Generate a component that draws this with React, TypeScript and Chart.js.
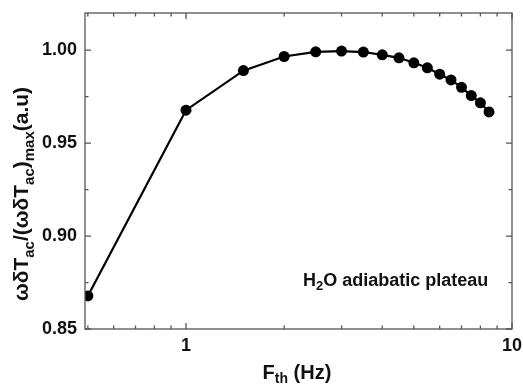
import React, { useEffect, useRef } from "react";
import { Chart, registerables } from "chart.js";

Chart.register(...registerables);

const frequencies = [0.5, 1.0, 1.5, 2.0, 2.5, 3.0, 3.5, 4.0, 4.5, 5.0, 5.5, 6.0, 6.5, 7.0, 7.5, 8.0, 8.5];
const normalized = [0.8678, 0.9677, 0.989, 0.9966, 0.9991, 0.9995, 0.999, 0.9975, 0.9959, 0.9932, 0.9905, 0.9871, 0.984, 0.980, 0.9756, 0.9717, 0.9668];
const xTickValues = [1, 10];
const xMinorTicks = [0.5, 0.6, 0.7, 0.8, 0.9, 2, 3, 4, 5, 6, 7, 8, 9];
const yTickValues = [0.85, 0.9, 0.95, 1.0];
const yMinorTicks = [0.875, 0.925, 0.975, 1.0];
const annotationText = ["H", "2", "O adiabatic plateau"];

const FONT = '"Liberation Sans", Arial, Helvetica, sans-serif';

type Seg = { t: string; sub: boolean };

function drawSegs(ctx: CanvasRenderingContext2D, segs: Seg[], x: number, y: number, main: number, sub: number, subOff: number, align: "left" | "center") {
  const fontFor = (s: Seg) => `bold ${s.sub ? sub : main}px ${FONT}`;
  let total = 0;
  for (const s of segs) {
    ctx.font = fontFor(s);
    total += ctx.measureText(s.t).width;
  }
  let cx = align === "center" ? x - total / 2 : x;
  ctx.textBaseline = "alphabetic";
  ctx.textAlign = "left";
  for (const s of segs) {
    ctx.font = fontFor(s);
    ctx.fillText(s.t, cx, y + (s.sub ? subOff : 0));
    cx += ctx.measureText(s.t).width;
  }
}

const framePlugin = {
  id: "frame",
  afterDraw(chart: any) {
    const { ctx, chartArea } = chart;
    const xs = chart.scales.x;
    const ys = chart.scales.y;
    const { left, right, top, bottom } = chartArea;
    ctx.save();
    ctx.strokeStyle = "#555";
    ctx.lineWidth = 1.3;
    ctx.strokeRect(left, top, right - left, bottom - top);
    ctx.beginPath();
    const tick = (len: number, px: number, vertical: boolean) => {
      if (vertical) {
        ctx.moveTo(px, bottom); ctx.lineTo(px, bottom - len);
        ctx.moveTo(px, top); ctx.lineTo(px, top + len);
      } else {
        ctx.moveTo(left, px); ctx.lineTo(left + len, px);
        ctx.moveTo(right, px); ctx.lineTo(right - len, px);
      }
    };
    xTickValues.forEach(v => tick(6, xs.getPixelForValue(v), true));
    xMinorTicks.forEach(v => tick(3.5, xs.getPixelForValue(v), true));
    yTickValues.forEach(v => tick(6, ys.getPixelForValue(v), false));
    yMinorTicks.forEach(v => tick(3.5, ys.getPixelForValue(v), false));
    ctx.stroke();

    ctx.fillStyle = "#111";
    // x title
    drawSegs(ctx, [{ t: "F", sub: false }, { t: "th", sub: true }, { t: " (Hz)", sub: false }], 297, 379, 20, 14, 4, "center");
    // annotation
    drawSegs(ctx, [{ t: annotationText[0], sub: false }, { t: annotationText[1], sub: true }, { t: annotationText[2], sub: false }], 303, 286, 18, 13, 4, "left");
    // y title
    ctx.save();
    ctx.translate(28, 194);
    ctx.rotate(-Math.PI / 2);
    drawSegs(ctx, [
      { t: "ωδT", sub: false }, { t: "ac", sub: true },
      { t: "/(ωδT", sub: false }, { t: "ac", sub: true },
      { t: ")", sub: false }, { t: "max", sub: true },
      { t: "(a.u)", sub: false },
    ], 0, 0, 21, 15, 6, "center");
    ctx.restore();
    ctx.restore();
  },
};

export default function App() {
  const ref = useRef<HTMLCanvasElement>(null);
  useEffect(() => {
    document.body.style.margin = "0";
    const chart = new Chart(ref.current!, {
      type: "scatter",
      data: {
        datasets: [{
          data: frequencies.map((f, i) => ({ x: f, y: normalized[i] })),
          showLine: true,
          borderColor: "#000",
          backgroundColor: "#000",
          borderWidth: 2.2,
          pointRadius: 5.5,
          pointBorderWidth: 0,
        }],
      },
      options: {
        animation: false,
        responsive: false,
        devicePixelRatio: 1,
        layout: { padding: { top: 13, right: 11, left: 0, bottom: 0 } },
        plugins: { legend: { display: false }, tooltip: { enabled: false } },
        scales: {
          x: {
            type: "logarithmic",
            min: 0.49,
            max: 10,
            grid: { display: false, drawTicks: false },
            border: { display: false },
            afterBuildTicks: (s: any) => { s.ticks = xTickValues.map(v => ({ value: v })); },
            afterFit: (s: any) => { s.height = 55; s.paddingLeft = 0; s.paddingRight = 0; },
            ticks: {
              color: "#111",
              padding: 6,
              maxRotation: 0,
              autoSkip: false,
              font: { family: FONT, size: 18, weight: "bold" },
              callback: (v: any) => String(v),
            },
          },
          y: {
            min: 0.85,
            max: 1.02,
            grid: { display: false, drawTicks: false },
            border: { display: false },
            afterBuildTicks: (s: any) => { s.ticks = yTickValues.map(v => ({ value: v })); },
            afterFit: (s: any) => { s.width = 85; s.paddingTop = 0; s.paddingBottom = 0; },
            ticks: {
              color: "#111",
              padding: 8,
              font: { family: FONT, size: 18, weight: "bold" },
              callback: (v: any) => Number(v).toFixed(2),
            },
          },
        },
      },
      plugins: [framePlugin],
    } as any);
    return () => chart.destroy();
  }, []);
  return <canvas ref={ref} width={523} height={384} style={{ display: "block" }} />;
}
